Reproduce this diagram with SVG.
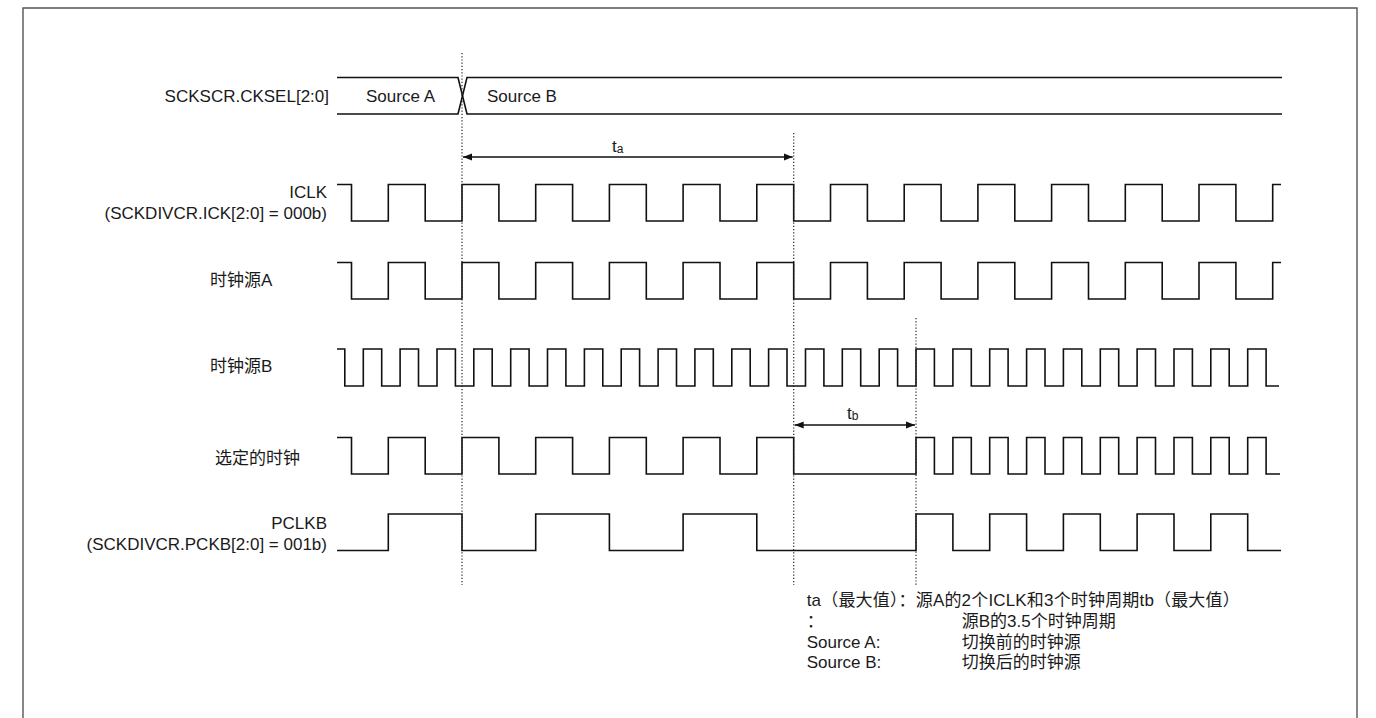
<svg xmlns="http://www.w3.org/2000/svg" width="1376" height="718" viewBox="0 0 1376 718">
<style>
text{font-family:"Liberation Sans",Arial,"Noto Sans CJK SC",sans-serif;font-size:17px;fill:#1a1a1a}
.cjk{font-family:"Liberation Sans","Noto Sans CJK SC",sans-serif}
.end{text-anchor:end}
.sub{font-size:12px}
.wave{fill:none;stroke:#111;stroke-width:1.6;stroke-linejoin:miter}
.dot{fill:none;stroke:#222;stroke-width:1.2;stroke-dasharray:1.2 2}
.arr{fill:none;stroke:#111;stroke-width:1.3}
</style>
<defs>
<marker id="ah" markerUnits="userSpaceOnUse" markerWidth="10" markerHeight="8" refX="9" refY="4" orient="auto-start-reverse">
<path d="M0,0.5 L9,4 L0,7.5 z" fill="#111"/>
</marker>
</defs>
<rect width="1376" height="718" fill="#fff"/>
<path d="M23,718 V8 H1357 V718" fill="none" stroke="#555" stroke-width="1.4"/>

<g id="cksel">
<text class="end" x="329" y="102">SCKSCR.CKSEL[2:0]</text>
<path class="wave" d="M337,77.5 H458 L467,114 H1282"/>
<path class="wave" d="M337,114 H458 L467,77.5 H1282"/>
<text x="366" y="102">Source A</text>
<text x="487" y="102">Source B</text>
</g>

<g id="iclk">
<text class="end" x="327" y="198">ICLK</text>
<text class="end" x="327" y="219">(SCKDIVCR.ICK[2:0] = 000b)</text>
<path class="wave" d="M337,184.5 H351.5 V221 H388.3 V184.5 H425.2 V221 H462 V184.5 H498.9 V221 H535.7 V184.5 H572.6 V221 H609.4 V184.5 H646.3 V221 H683.1 V184.5 H720 V221 H756.8 V184.5 H793.7 V221 H830.5 V184.5 H867.4 V221 H904.2 V184.5 H941.1 V221 H977.9 V184.5 H1014.8 V221 H1051.6 V184.5 H1088.5 V221 H1125.3 V184.5 H1162.2 V221 H1199 V184.5 H1235.9 V221 H1272.7 V184.5 H1281"/>
</g>

<g id="srcA">
<text class="cjk" x="210" y="286">时钟源A</text>
<path class="wave" d="M337,262.5 H351.5 V299 H388.3 V262.5 H425.2 V299 H462 V262.5 H498.9 V299 H535.7 V262.5 H572.6 V299 H609.4 V262.5 H646.3 V299 H683.1 V262.5 H720 V299 H756.8 V262.5 H793.7 V299 H830.5 V262.5 H867.4 V299 H904.2 V262.5 H941.1 V299 H977.9 V262.5 H1014.8 V299 H1051.6 V262.5 H1088.5 V299 H1125.3 V262.5 H1162.2 V299 H1199 V262.5 H1235.9 V299 H1272.7 V262.5 H1281"/>
</g>

<g id="srcB">
<text class="cjk" x="210" y="372">时钟源B</text>
<path class="wave" d="M337,349 H344.8 V386 H363.3 V349 H381.7 V386 H400.1 V349 H418.5 V386 H437 V349 H455.4 V386 H473.8 V349 H492.2 V386 H510.7 V349 H529.1 V386 H547.5 V349 H565.9 V386 H584.4 V349 H602.8 V386 H621.2 V349 H639.6 V386 H658.1 V349 H676.5 V386 H694.9 V349 H713.3 V386 H731.8 V349 H750.2 V386 H768.6 V349 H787 V386 H805.5 V349 H823.9 V386 H842.3 V349 H860.7 V386 H879.2 V349 H897.6 V386 H916 V349 H934.4 V386 H952.9 V349 H971.3 V386 H989.7 V349 H1008.1 V386 H1026.6 V349 H1045 V386 H1063.4 V349 H1081.8 V386 H1100.3 V349 H1118.7 V386 H1137.1 V349 H1155.5 V386 H1174 V349 H1192.4 V386 H1210.8 V349 H1229.2 V386 H1247.7 V349 H1266.1 V386 H1279"/>
</g>

<g id="selected">
<text class="cjk" x="215" y="464">选定的时钟</text>
<path class="wave" d="M337,437.5 H351.5 V474 H388.3 V437.5 H425.2 V474 H462 V437.5 H498.9 V474 H535.7 V437.5 H572.6 V474 H609.4 V437.5 H646.3 V474 H683.1 V437.5 H720 V474 H756.8 V437.5 H793.7 V474 H916 V437.5 H934.4 V474 H952.9 V437.5 H971.3 V474 H989.7 V437.5 H1008.1 V474 H1026.6 V437.5 H1045 V474 H1063.4 V437.5 H1081.8 V474 H1100.3 V437.5 H1118.7 V474 H1137.1 V437.5 H1155.5 V474 H1174 V437.5 H1192.4 V474 H1210.8 V437.5 H1229.2 V474 H1247.7 V437.5 H1266.1 V474 H1280"/>
</g>

<g id="pclkb">
<text class="end" x="327" y="529">PCLKB</text>
<text class="end" x="327" y="550">(SCKDIVCR.PCKB[2:0] = 001b)</text>
<path class="wave" d="M337,550.5 H388.3 V514 H462 V550.5 H535.7 V514 H609.4 V550.5 H683.1 V514 H756.8 V550.5 H916 V514 H952.9 V550.5 H989.7 V514 H1026.6 V550.5 H1063.4 V514 H1100.3 V550.5 H1137.1 V514 H1174 V550.5 H1210.8 V514 H1247.7 V550.5 H1281"/>
</g>

<g id="connectors">
<path class="dot" d="M462,53 V585"/>
<path class="dot" d="M793.7,133 V585"/>
<path class="dot" d="M916,318 V585"/>
<path class="arr" d="M463,157 H792.7" marker-start="url(#ah)" marker-end="url(#ah)"/>
<path class="arr" d="M794.7,425 H915" marker-start="url(#ah)" marker-end="url(#ah)"/>
</g>

<g id="ta-label">
<text x="612" y="152">t<tspan class="sub" dy="1">a</tspan></text>
</g>
<g id="tb-label">
<text x="847" y="419">t<tspan class="sub" dy="1">b</tspan></text>
</g>

<g id="legend">
<text class="cjk" x="806.7" y="606" textLength="433" lengthAdjust="spacing">ta（最大值）：源A的2个ICLK和3个时钟周期tb（最大值）</text>
<text class="cjk" x="806.7" y="627">：</text>
<text class="cjk" x="961.7" y="627">源B的3.5个时钟周期</text>
<text x="806.7" y="648">Source A:</text>
<text class="cjk" x="961.7" y="648">切换前的时钟源</text>
<text x="806.7" y="668">Source B:</text>
<text class="cjk" x="961.7" y="668">切换后的时钟源</text>
</g>
</svg>
